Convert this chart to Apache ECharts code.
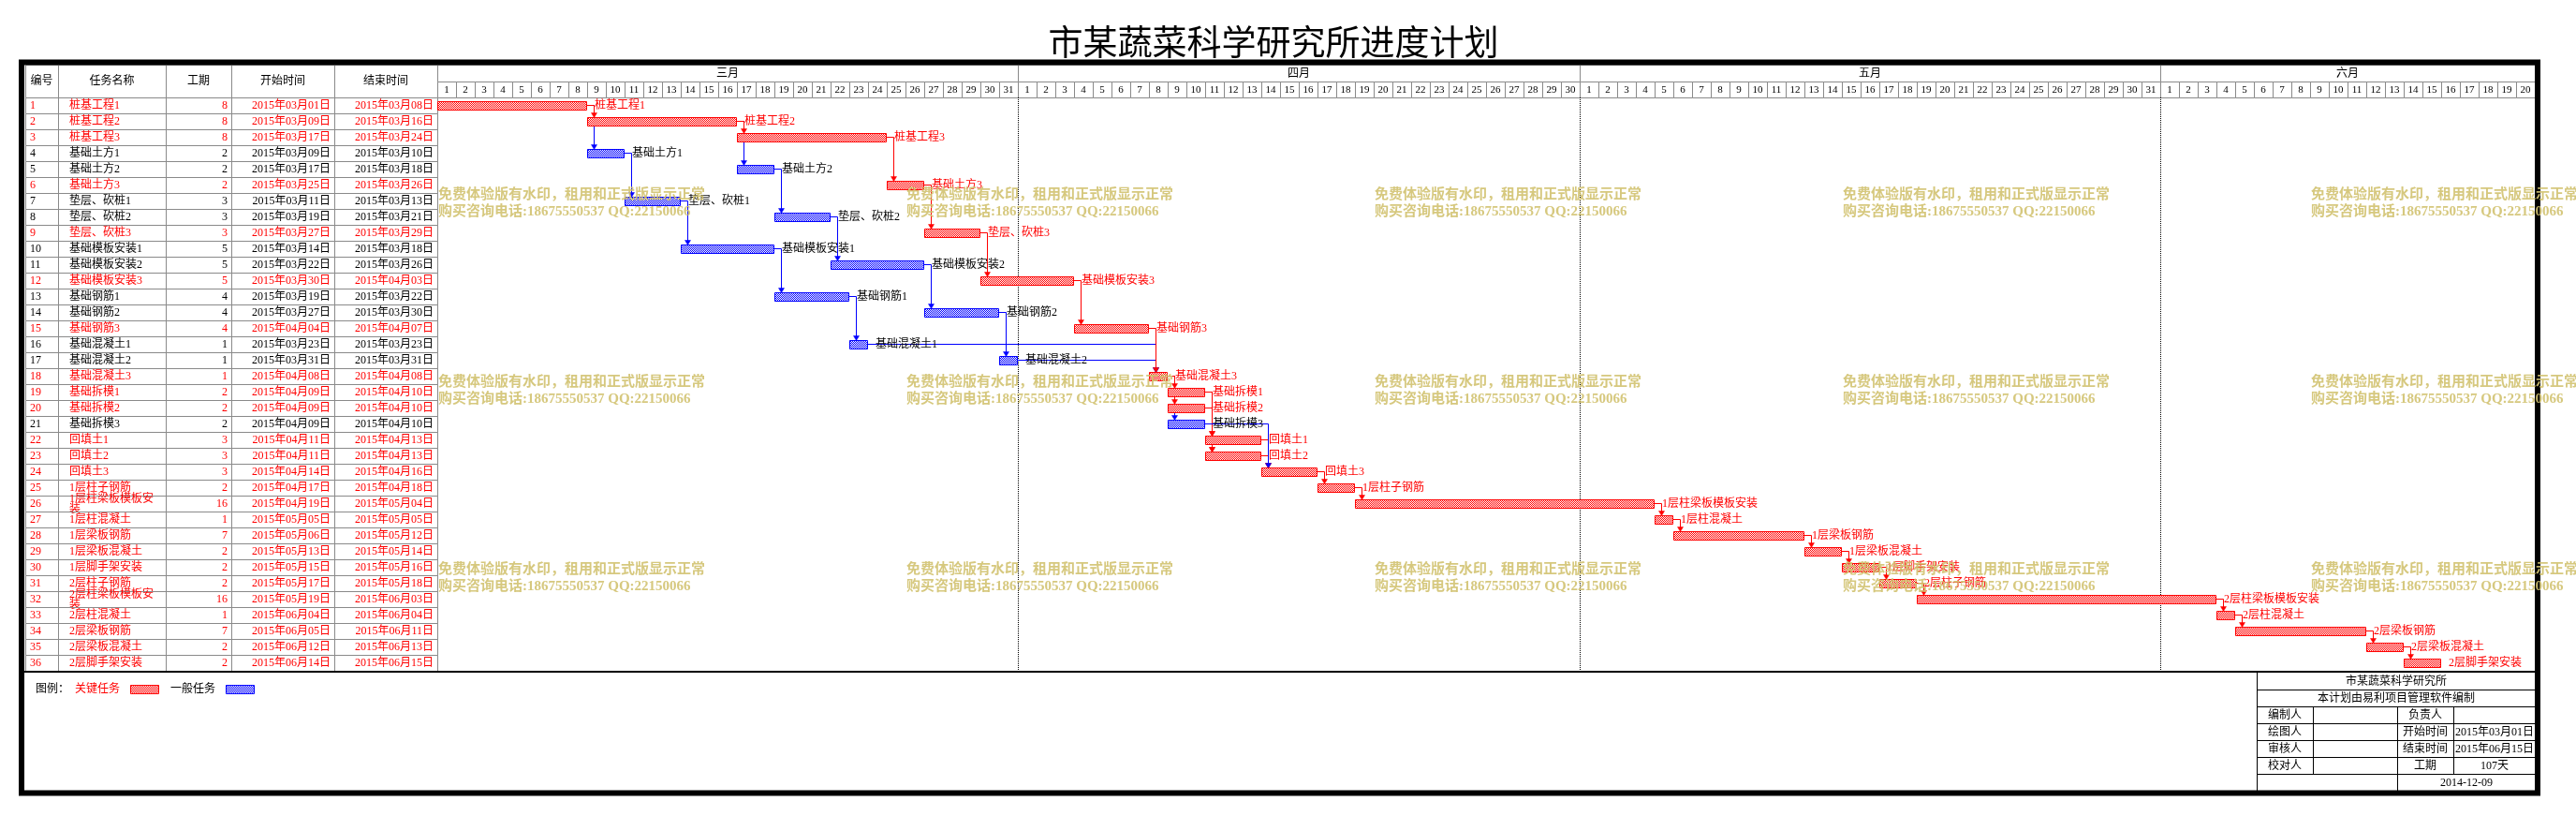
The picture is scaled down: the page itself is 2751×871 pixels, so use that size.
<!DOCTYPE html>
<html><head><meta charset="utf-8">
<script src="https://cdn.jsdelivr.net/npm/echarts@6/dist/echarts.min.js"></script>
<style>html,body{margin:0;padding:0;background:#fff}#c{width:2751px;height:871px}</style>
</head><body><div id="c"></div>
<script>
// ---------------- data ----------------
const chartTitle = '市某蔬菜科学研究所进度计划';
const projectStart = '2015-03-01';
const months = ['三月','四月','五月','六月'];
const monthDays = [31,30,31,20];
const colHeaders = ['编号','任务名称','工期','开始时间','结束时间'];
const taskNames = ['桩基工程1','桩基工程2','桩基工程3','基础土方1','基础土方2','基础土方3','垫层、砍桩1','垫层、砍桩2','垫层、砍桩3','基础模板安装1','基础模板安装2','基础模板安装3','基础钢筋1','基础钢筋2','基础钢筋3','基础混凝土1','基础混凝土2','基础混凝土3','基础拆模1','基础拆模2','基础拆模3','回填土1','回填土2','回填土3','1层柱子钢筋','1层柱梁板模板安装','1层柱混凝土','1层梁板钢筋','1层梁板混凝土','1层脚手架安装','2层柱子钢筋','2层柱梁板模板安装','2层柱混凝土','2层梁板钢筋','2层梁板混凝土','2层脚手架安装'];
const durations = [8,8,8,2,2,2,3,3,3,5,5,5,4,4,4,1,1,1,2,2,2,3,3,3,2,16,1,7,2,2,2,16,1,7,2,2];
const startDates = ['2015-03-01','2015-03-09','2015-03-17','2015-03-09','2015-03-17','2015-03-25','2015-03-11','2015-03-19','2015-03-27','2015-03-14','2015-03-22','2015-03-30','2015-03-19','2015-03-27','2015-04-04','2015-03-23','2015-03-31','2015-04-08','2015-04-09','2015-04-09','2015-04-09','2015-04-11','2015-04-11','2015-04-14','2015-04-17','2015-04-19','2015-05-05','2015-05-06','2015-05-13','2015-05-15','2015-05-17','2015-05-19','2015-06-04','2015-06-05','2015-06-12','2015-06-14'];
const endDates = ['2015-03-08','2015-03-16','2015-03-24','2015-03-10','2015-03-18','2015-03-26','2015-03-13','2015-03-21','2015-03-29','2015-03-18','2015-03-26','2015-04-03','2015-03-22','2015-03-30','2015-04-07','2015-03-23','2015-03-31','2015-04-08','2015-04-10','2015-04-10','2015-04-10','2015-04-13','2015-04-13','2015-04-16','2015-04-18','2015-05-04','2015-05-05','2015-05-12','2015-05-14','2015-05-16','2015-05-18','2015-06-03','2015-06-04','2015-06-11','2015-06-13','2015-06-15'];
const critical = [1,1,1,0,0,1,0,0,1,0,0,1,0,0,1,0,0,1,1,1,0,1,1,1,1,1,1,1,1,1,1,1,1,1,1,1];
// predecessor -> successor (task numbers), in drawing order
const links = [[1,4],[1,2],[2,5],[2,3],[3,6],[4,7],[5,8],[6,9],[7,10],[8,11],[9,12],[10,13],[11,14],[12,15],[13,16],[14,17],[16,18],[17,18],[15,18],[18,21],[18,20],[18,19],[19,22],[19,23],[20,22],[20,23],[22,24],[23,24],[21,24],[24,25],[25,26],[26,27],[27,28],[28,29],[29,30],[30,31],[31,32],[32,33],[33,34],[34,35],[35,36]];
const legendTitle = '图例：';
const legendItems = ['关键任务','一般任务'];
const infoOrg = '市某蔬菜科学研究所';
const infoSoftware = '本计划由易利项目管理软件编制';
const infoRows = [['编制人','','负责人',''],['绘图人','','开始时间','2015年03月01日'],['审核人','','结束时间','2015年06月15日'],['校对人','','工期','107天']];
const infoDate = '2014-12-09';
const watermarkLines = ['免费体验版有水印，租用和正式版显示正常','购买咨询电话:18675550537 QQ:22150066'];

// ---------------- helpers ----------------
const RED = '#ff0000', BLUE = '#0000ff', GRIDC = '#8a8a8a';
const FONT = "'Liberation Serif','Noto Sans CJK SC',serif";
const F12 = '12px ' + FONT;
function ymd(s){ return s.split('-').map(Number); }
function dayIndex(s){
  const [y,m,d] = ymd(s), [y0,m0,d0] = ymd(projectStart);
  return Math.round((Date.UTC(y,m-1,d) - Date.UTC(y0,m0-1,d0)) / 86400000);
}
function fmtDate(s){ const p = s.split('-'); return p[0]+'年'+p[1]+'月'+p[2]+'日'; }
function mkPattern(color){
  const c = document.createElement('canvas'); c.width = 2; c.height = 2;
  const g = c.getContext('2d'); g.fillStyle = '#fff'; g.fillRect(0,0,2,2);
  g.fillStyle = color; g.fillRect(0,0,1,1); g.fillRect(1,1,1,1);
  return {image: c, repeat: 'repeat'};
}
const patR = mkPattern(RED), patB = mkPattern(BLUE);
const totalDays = monthDays.reduce((a,b)=>a+b,0);
const startIdx = startDates.map(dayIndex);
const endIdx = endDates.map(s => dayIndex(s) + 1);
const px = v => Math.round(v) + 0.5;
function txt(x, y, text, fill, align, font, extra){
  return Object.assign({type:'text', style:{x, y, text, fill: fill || '#000', font: font || F12,
    textAlign: align || 'left', align: align || 'left', textVerticalAlign:'middle', verticalAlign:'middle'}}, extra || {});
}

// header cells for the gantt time scale
const headerCells = [], headerLabels = [];
let acc = 0;
months.forEach((m, k) => {
  headerCells.push([acc, acc + monthDays[k], 0]); headerLabels.push(m);
  for (let d = 1; d <= monthDays[k]; d++) { headerCells.push([acc + d - 1, acc + d, 1]); headerLabels.push(String(d)); }
  acc += monthDays[k];
});
const monthBounds = []; acc = 0;
monthDays.slice(0, -1).forEach(n => { acc += n; monthBounds.push([acc]); });

// table columns (table units = pixels inside the table grid)
const colEdges = [0,35,150,220,330,440];

// ---------------- series ----------------
const tableHeaderSeries = {
  type:'custom', xAxisIndex:3, yAxisIndex:3, silent:true, clip:false,
  data: colHeaders.map((h,k)=>[k]),
  renderItem(params, api){
    const k = api.value(0);
    const p0 = api.coord([colEdges[k], 0]), p1 = api.coord([colEdges[k+1], 35]);
    return {type:'group', children:[
      {type:'rect', shape:{x:px(p0[0]), y:px(p0[1]), width:Math.round(p1[0]-p0[0]), height:Math.round(p1[1]-p0[1])}, style:{fill:'#fff', stroke:GRIDC, lineWidth:1}},
      txt((p0[0]+p1[0])/2, (p0[1]+p1[1])/2 + 0.5, colHeaders[k], '#000', 'center')
    ]};
  }
};

const tableRowSeries = {
  type:'custom', xAxisIndex:2, yAxisIndex:2, silent:true, clip:false,
  data: taskNames.map((n,i)=>[0,i]),
  renderItem(params, api){
    const i = api.value(1);
    const c = api.coord([0, i]), h = api.size([0,1])[1];
    const y0 = Math.round(c[1] - h/2), y1 = Math.round(c[1] + h/2);
    const xs = colEdges.map(e => Math.round(api.coord([e, i])[0]));
    const col = critical[i] ? RED : '#000';
    const ch = [];
    for (let k = 0; k < 5; k++) ch.push({type:'rect', shape:{x:xs[k]+0.5, y:y0+0.5, width:xs[k+1]-xs[k], height:y1-y0}, style:{fill:'none', stroke:GRIDC, lineWidth:1}});
    const cy = c[1] + 0.5;
    ch.push(txt(xs[0]+5, cy, String(i+1), col, 'left'));
    const nameText = txt(xs[1]+12, cy, taskNames[i], col, 'left');
    nameText.style.width = 96; nameText.style.overflow = 'break'; nameText.style.lineHeight = 11;
    ch.push(nameText);
    ch.push(txt(xs[3]-4, cy, String(durations[i]), col, 'right'));
    ch.push(txt(xs[4]-4, cy, fmtDate(startDates[i]), col, 'right'));
    ch.push(txt(xs[5]-4, cy, fmtDate(endDates[i]), col, 'right'));
    return {type:'group', children: ch};
  }
};

const ganttHeaderSeries = {
  type:'custom', xAxisIndex:1, yAxisIndex:1, silent:true, clip:false,
  data: headerCells,
  renderItem(params, api){
    const t = api.value(2);
    const yT = t === 0 ? 0 : 18, yB = t === 0 ? 18 : 35;
    const p0 = api.coord([api.value(0), yT]), p1 = api.coord([api.value(1), yB]);
    const L = px(p0[0]), R = px(p1[0]), T = px(p0[1]), B = px(p1[1]);
    return {type:'group', children:[
      {type:'rect', shape:{x:L, y:T, width:R-L, height:B-T}, style:{fill:'#fff', stroke:GRIDC, lineWidth:1}},
      txt((p0[0]+p1[0])/2, (p0[1]+p1[1])/2 + 0.5, headerLabels[params.dataIndex], '#000', 'center', (t === 0 ? '12px ' : '11px ') + FONT)
    ]};
  }
};

const monthLineSeries = {
  type:'custom', xAxisIndex:0, yAxisIndex:0, silent:true, clip:false,
  data: monthBounds,
  renderItem(params, api){
    const cs = params.coordSys;
    const x = px(api.coord([api.value(0), 0])[0]);
    return {type:'line', shape:{x1:x, y1:cs.y, x2:x, y2:cs.y+cs.height}, style:{stroke:'#000', lineWidth:1, lineDash:[1,1]}};
  }
};

const linkSeries = {
  type:'custom', xAxisIndex:0, yAxisIndex:0, silent:true, clip:false,
  data: links.map(([p,s]) => [endIdx[p-1], p-1, startIdx[s-1], s-1, (critical[p-1] && critical[s-1]) ? 1 : 0]),
  renderItem(params, api){
    const a = api.coord([api.value(0), api.value(1)]);
    const b = api.coord([api.value(2), api.value(3)]);
    const col = api.value(4) ? RED : BLUE;
    const xv = Math.round(b[0]) + 7.5;
    const tip = Math.round(b[1] - 4.5) + 0.5;
    return {type:'group', children:[
      {type:'polyline', shape:{points:[[Math.round(a[0]), a[1]],[xv, a[1]],[xv, tip-4]]}, style:{stroke:col, lineWidth:1, fill:null}},
      {type:'polygon', shape:{points:[[xv-3, tip-5],[xv+3, tip-5],[xv, tip]]}, style:{fill:col, stroke:col, lineWidth:0.5}}
    ]};
  }
};

const barSeries = {
  type:'custom', xAxisIndex:0, yAxisIndex:0, silent:true, clip:false,
  data: taskNames.map((n,i)=>[startIdx[i], endIdx[i], i]),
  encode:{x:[0,1], y:2},
  renderItem(params, api){
    const i = api.value(2);
    const s = api.coord([api.value(0), i]), e = api.coord([api.value(1), i]);
    const crit = critical[i];
    const top = Math.round(s[1] - 4.5) + 0.5;
    return {type:'group', children:[
      {type:'rect', shape:{x:px(s[0]), y:top, width:Math.round(e[0])-Math.round(s[0])-1, height:9}, style:{fill: crit ? patR : patB, stroke: crit ? RED : BLUE, lineWidth:1}},
      txt(e[0] + 8, s[1] + 0.5, taskNames[i], crit ? RED : '#000', 'left')
    ]};
  }
};

// ---------------- graphic (frame, title, legend, info panel, watermark) ----------------
const graphics = [];
graphics.push({type:'text', z:30, style:{x:1360, y:45, text:chartTitle, fill:'#000', font:"37px 'Noto Sans CJK SC'", textAlign:'center', align:'center', textVerticalAlign:'middle', verticalAlign:'middle'}});
graphics.push({type:'line', z:40, shape:{x1:26, y1:717, x2:2707, y2:717}, style:{stroke:'#000', lineWidth:2}});
// legend
graphics.push(Object.assign(txt(38, 736, legendTitle, '#000', 'left'), {z:30}));
graphics.push(Object.assign(txt(80, 736, legendItems[0], RED, 'left'), {z:30}));
graphics.push({type:'rect', z:30, shape:{x:139.5, y:731.5, width:30, height:9}, style:{fill:patR, stroke:RED, lineWidth:1}});
graphics.push(Object.assign(txt(182, 736, legendItems[1], '#000', 'left'), {z:30}));
graphics.push({type:'rect', z:30, shape:{x:241.5, y:731.5, width:30, height:9}, style:{fill:patB, stroke:BLUE, lineWidth:1}});
// info panel
const IX = [2410, 2470, 2560, 2620, 2708];
const IY = [717, 736, 754, 772, 790, 808, 826, 844];
const L = (x1,y1,x2,y2) => ({type:'line', z:30, shape:{x1,y1,x2,y2}, style:{stroke:'#000', lineWidth:1}});
graphics.push(L(IX[0]+0.5, IY[0], IX[0]+0.5, IY[7]));
for (let r = 1; r <= 6; r++) graphics.push(L(IX[0], IY[r]+0.5, IX[4], IY[r]+0.5));
graphics.push(L(IX[1]+0.5, IY[2], IX[1]+0.5, IY[6]));
graphics.push(L(IX[2]+0.5, IY[2], IX[2]+0.5, IY[7]));
graphics.push(L(IX[3]+0.5, IY[2], IX[3]+0.5, IY[6]));
const midY = r => (IY[r] + IY[r+1]) / 2 + 1;
graphics.push(Object.assign(txt((IX[0]+IX[4])/2, midY(0), infoOrg, '#000', 'center'), {z:30}));
graphics.push(Object.assign(txt((IX[0]+IX[4])/2, midY(1), infoSoftware, '#000', 'center'), {z:30}));
infoRows.forEach((row, r) => {
  row.forEach((t, k) => { if (t) graphics.push(Object.assign(txt((IX[k]+IX[k+1])/2, midY(r+2), t, '#000', 'center'), {z:30})); });
});
graphics.push(Object.assign(txt((IX[2]+IX[4])/2, midY(6), infoDate, '#000', 'center'), {z:30}));
// outer frame
graphics.push({type:'rect', z:50, shape:{x:23, y:66.5, width:2687, height:780}, style:{fill:'transparent', stroke:'#000', lineWidth:6}});
// watermark
for (let j = 0; j < 3; j++) for (let k = 0; k < 5; k++) {
  watermarkLines.forEach((w, n) => {
    graphics.push({type:'text', z:100, style:{x:468 + 500*k, y:208 + 200*j + 18*n, text:w, fill:'rgba(210,194,112,0.9)', font:"bold 15px 'Liberation Serif','Noto Sans CJK SC'", textAlign:'left', align:'left', textVerticalAlign:'middle', verticalAlign:'middle'}});
  });
}

const option = {
  animation:false,
  backgroundColor:'#fff',
  grid:[
    {left:467, top:104, width:2240, height:612},
    {left:467, top:69, width:2240, height:35},
    {left:27, top:104, width:440, height:612},
    {left:27, top:69, width:440, height:35}
  ],
  xAxis:[
    {type:'value', gridIndex:0, min:0, max:totalDays, show:false},
    {type:'value', gridIndex:1, min:0, max:totalDays, show:false},
    {type:'value', gridIndex:2, min:0, max:440, show:false},
    {type:'value', gridIndex:3, min:0, max:440, show:false}
  ],
  yAxis:[
    {type:'category', gridIndex:0, data:taskNames.map((n,i)=>String(i+1)), inverse:true, show:false},
    {type:'value', gridIndex:1, min:0, max:35, inverse:true, show:false},
    {type:'category', gridIndex:2, data:taskNames.map((n,i)=>String(i+1)), inverse:true, show:false},
    {type:'value', gridIndex:3, min:0, max:35, inverse:true, show:false}
  ],
  series:[tableHeaderSeries, tableRowSeries, ganttHeaderSeries, monthLineSeries, linkSeries, barSeries],
  graphic:{elements: graphics}
};
const chart = echarts.init(document.getElementById('c'), null, {renderer:'canvas'});
chart.setOption(option);
</script></body></html>
